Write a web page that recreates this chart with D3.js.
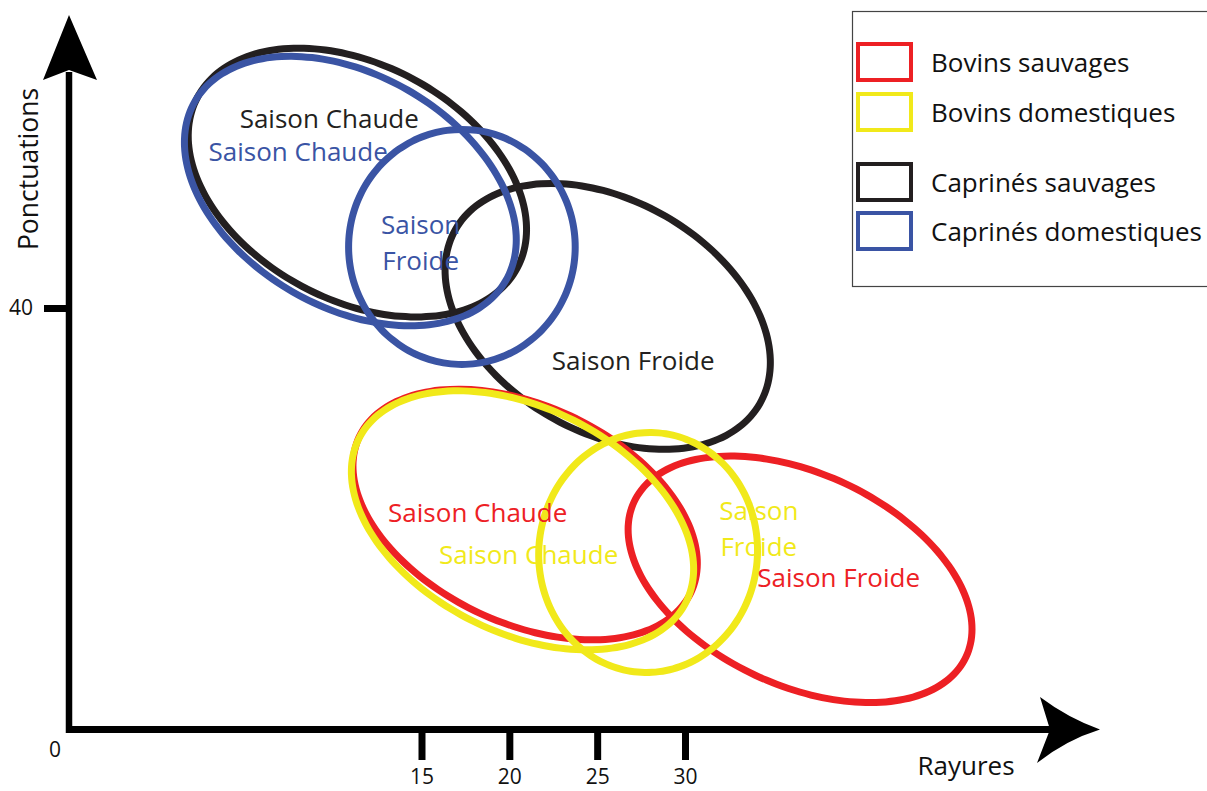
<!DOCTYPE html>
<html>
<head>
<meta charset="utf-8">
<script src="https://cdn.jsdelivr.net/npm/d3@7"></script>
<style>
  html, body { margin: 0; padding: 0; background: #fff; }
  svg { display: block; }
  text { font-family: "Open Sans", "Noto Sans", sans-serif; }
</style>
</head>
<body>
<svg id="viz" width="1207" height="791"></svg>
<script>
// --- data ---
const groups = ['Bovins sauvages', 'Bovins domestiques', 'Caprinés sauvages', 'Caprinés domestiques'];
const groupColors = ['#ed2024', '#f1e91a', '#231f20', '#3a54a4'];
const xTicks = [15, 20, 25, 30];
const yTicks = [40];

// each ellipse: centre (rayures, ponctuations) and two conjugate half-axes, in data units
const caprinesSauvages = [
  { season: 'Chaude', center: [11.35, 51.9], a: [9.1, -8.1], b: [-3.15, -9.85] },
  { season: 'Froide', center: [25.6, 39.2], a: [8.65, -8.3], b: [-3.3, -9.5] },
];
const caprinesDomestiques = [
  { season: 'Chaude', center: [10.95, 51.1], a: [8.85, -8.5], b: [-3.3, -9.55] },
  { season: 'Froide', center: [17.3, 45.8], a: [6.45, 0], b: [0, -11.15] },
];
const bovinsSauvages = [
  { season: 'Chaude', center: [20.9, 20.4], a: [9.45, -7.35], b: [-2.6, -9.35] },
  { season: 'Froide', center: [36.55, 14.25], a: [9.45, -7.35], b: [-2.55, -9.1] },
];
const bovinsDomestiques = [
  { season: 'Chaude', center: [20.75, 19.85], a: [9.3, -7.8], b: [-2.9, -9.5] },
  { season: 'Froide', center: [27.9, 16.8], a: [6.2, -0.9], b: [-0.6, -11.35] },
];

// season labels: text lines, anchor (rayures, ponctuations), group index
const labels = [
  { lines: ['Saison Chaude'], at: [9.75, 57.1], g: 2 },
  { lines: ['Saison Chaude'], at: [7.98, 53.95], g: 3 },
  { lines: ['Saison', 'Froide'], at: [14.95, 47.0], g: 3 },
  { lines: ['Saison Froide'], at: [27.05, 34.1], g: 2 },
  { lines: ['Saison Chaude'], at: [18.2, 19.65], g: 0 },
  { lines: ['Saison Chaude'], at: [21.1, 15.75], g: 1 },
  { lines: ['Saison', 'Froide'], at: [34.2, 19.85], g: 1 },
  { lines: ['Saison Froide'], at: [38.75, 13.5], g: 0 },
];

// --- drawing ---
const svg = d3.select('#viz');
const x = d3.scaleLinear().domain([15, 30]).range([421.5, 685]);
const y = d3.scaleLinear().domain([0, 40]).range([729.5, 308]);
const originX = 69;

function ellipsePoints(e) {
  return d3.range(0, 96).map(i => {
    const t = i / 96 * 2 * Math.PI;
    const c = Math.cos(t), s = Math.sin(t);
    return [e.center[0] + e.a[0] * c + e.b[0] * s, e.center[1] + e.a[1] * c + e.b[1] * s];
  });
}

const ellipseLine = d3.line()
  .x(p => x(p[0]))
  .y(p => y(p[1]))
  .curve(d3.curveCardinalClosed);

const layers = [
  { g: 2, items: caprinesSauvages },
  { g: 3, items: caprinesDomestiques },
  { g: 0, items: bovinsSauvages },
  { g: 1, items: bovinsDomestiques },
];

const plot = svg.append('g');
layers.forEach(layer => {
  plot.selectAll(null)
    .data(layer.items)
    .join('path')
    .attr('d', d => ellipseLine(ellipsePoints(d)))
    .attr('fill', 'none')
    .attr('stroke', groupColors[layer.g])
    .attr('stroke-width', 7);
});

const lab = svg.append('g')
  .selectAll('text')
  .data(labels)
  .join('text')
  .attr('x', d => x(d.at[0]))
  .attr('y', d => y(d.at[1]))
  .attr('text-anchor', 'middle')
  .attr('font-size', 26)
  .attr('fill', d => groupColors[d.g]);
lab.selectAll('tspan')
  .data(d => d.lines.map((t, i) => ({ t, i, x: x(d.at[0]) })))
  .join('tspan')
  .attr('x', d => d.x)
  .attr('dy', d => (d.i === 0 ? 0 : 36))
  .text(d => d.t);

// axes
const axisG = svg.append('g');
axisG.append('line')
  .attr('x1', originX).attr('x2', originX)
  .attr('y1', y(0) + 3.5).attr('y2', 72)
  .attr('stroke', '#000').attr('stroke-width', 6.5);
axisG.append('path')
  .attr('d', `M${originX},15 L97,80 L${originX},70 L43,80 Z`)
  .attr('fill', '#000');
axisG.append('line')
  .attr('x1', originX - 3).attr('x2', 1055)
  .attr('y1', y(0)).attr('y2', y(0))
  .attr('stroke', '#000').attr('stroke-width', 7);
axisG.append('path')
  .attr('d', `M1100,${y(0)} Q1066,740 1037,763 L1050,${y(0)} L1040,697 Q1068,718 1100,${y(0)} Z`)
  .attr('fill', '#000');

const xAxis = svg.append('g')
  .attr('transform', `translate(0,${y(0) + 3.5})`)
  .call(d3.axisBottom(x).tickValues(xTicks).tickSize(27).tickPadding(9));
xAxis.select('.domain').remove();
xAxis.selectAll('.tick line').attr('stroke', '#000').attr('stroke-width', 7);
xAxis.selectAll('.tick text')
  .attr('font-size', 21).attr('fill', '#111')
  .style('font-family', '"Open Sans", sans-serif');

const yAxis = svg.append('g')
  .attr('transform', `translate(${originX},0)`)
  .call(d3.axisLeft(y).tickValues(yTicks).tickSize(25).tickPadding(11));
yAxis.select('.domain').remove();
yAxis.selectAll('.tick line').attr('stroke', '#000').attr('stroke-width', 7);
yAxis.selectAll('.tick text')
  .attr('font-size', 21).attr('fill', '#111')
  .style('font-family', '"Open Sans", sans-serif');

svg.append('text')
  .attr('x', 55).attr('y', 757)
  .attr('text-anchor', 'middle')
  .attr('font-size', 21)
  .attr('fill', '#111')
  .text('0');

svg.append('text')
  .attr('x', 966).attr('y', 775)
  .attr('text-anchor', 'middle')
  .attr('font-size', 26)
  .attr('fill', '#111')
  .text('Rayures');

svg.append('text')
  .attr('transform', 'translate(38,169) rotate(-90)')
  .attr('text-anchor', 'middle')
  .attr('font-size', 26.5)
  .attr('fill', '#111')
  .text('Ponctuations');

// legend
const legend = svg.append('g');
legend.append('rect')
  .attr('x', 852.5).attr('y', 11.5)
  .attr('width', 360).attr('height', 275)
  .attr('fill', 'none').attr('stroke', '#444').attr('stroke-width', 1.2);
const legendY = [62, 112, 182, 231];
const leg = legend.selectAll('g.item')
  .data(groups)
  .join('g')
  .attr('class', 'item')
  .attr('transform', (d, i) => `translate(0,${legendY[i]})`);
leg.append('rect')
  .attr('x', 858).attr('y', -18)
  .attr('width', 53).attr('height', 36)
  .attr('fill', 'none')
  .attr('stroke', (d, i) => groupColors[i])
  .attr('stroke-width', 4);
leg.append('text')
  .attr('x', 931).attr('y', 10)
  .attr('font-size', 26)
  .attr('fill', '#111')
  .text(d => d);
</script>
</body>
</html>
